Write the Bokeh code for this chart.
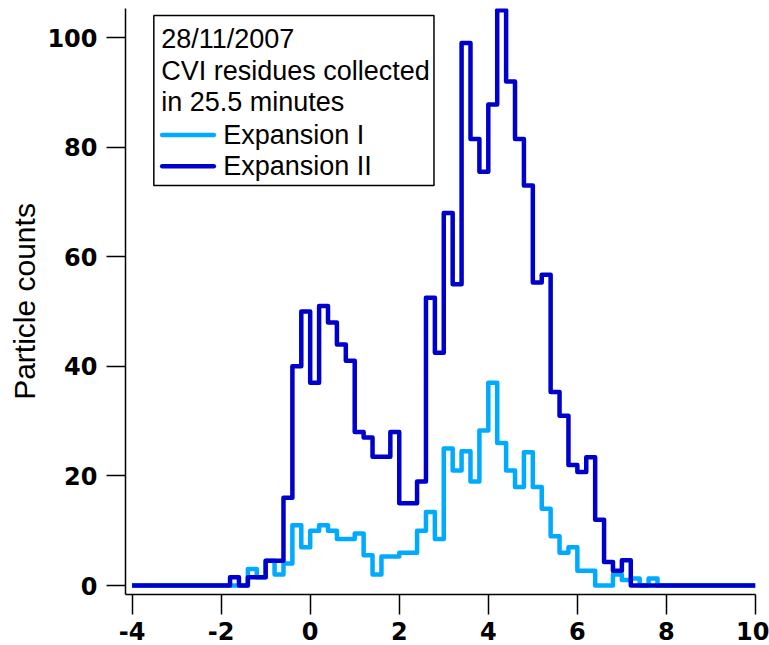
from bokeh.plotting import figure
from bokeh.models import Range1d, FixedTicker, BoxAnnotation, Label, CustomJSTickFormatter
from bokeh.embed import file_html
from bokeh.resources import INLINE

# ---- data -------------------------------------------------------------
bin_start = -4.0
bin_width = 0.2

# Particle counts per bin (bins from -4.0 to 10.0, width 0.2)
expansion_1 = [
    0, 0, 0, 0, 0, 0, 0, 0, 0, 0,          # -4.0 .. -2.2
    0, 0, 0, 3, 1.5, 4.5, 2, 4, 11, 7,      # -2.0 .. -0.2
    10, 11, 10, 8.5, 8.5, 9.5, 5.5, 2, 5.3, 5.3,   # 0.0 .. 1.8
    6, 6, 10, 13.4, 8.5, 25, 21, 24.5, 19, 28.3,   # 2.0 .. 3.8
    37, 26, 21, 18, 24.3, 18, 14, 9, 6, 7,         # 4.0 .. 5.8
    2.7, 2.7, 0, 0, 2, 1, 1.3, 0, 1.3, 0,          # 6.0 .. 7.8
    0, 0, 0, 0, 0, 0, 0, 0, 0, 0,                  # 8.0 .. 9.8
]
expansion_2 = [
    0, 0, 0, 0, 0, 0, 0, 0, 0, 0,
    0, 1.5, 0, 1.5, 1.5, 4.5, 4.5, 16, 40, 50,
    37, 51, 48, 44, 41, 28, 27, 23.5, 23.5, 28,
    15, 15, 19, 52.5, 42.5, 68, 55, 99, 81.5, 75.5,
    87.8, 105, 92, 81.5, 73, 55.3, 56.7, 35.3, 31, 22,
    20.7, 23.4, 12, 4.3, 2.7, 4.6, 0, 0, 0, 0,
    0, 0, 0, 0, 0, 0, 0, 0, 0, 0,
]
x_ticks = [-4, -2, 0, 2, 4, 6, 8, 10]
y_ticks = [0, 20, 40, 60, 80, 100]
legend_header = ["28/11/2007", "CVI residues collected", "in 25.5 minutes"]
series_names = ["Expansion I", "Expansion II"]
series_colors = ["#00AAFF", "#0000CC"]
y_title = "Particle counts"

# ---- figure -----------------------------------------------------------
p = figure(width=769, height=645, output_backend="svg", toolbar_location=None,
           x_range=Range1d(-4.148, 10.001), y_range=Range1d(-1.64, 105.3),
           min_border_left=125, min_border_right=14, min_border_top=8,
           min_border_bottom=51)
p.outline_line_color = None
p.xgrid.visible = False
p.ygrid.visible = False
p.background_fill_color = "white"
p.border_fill_color = "white"

n = len(expansion_1)
edges = [round(bin_start + i * bin_width, 2) for i in range(n + 1)]

for vals, col in zip([expansion_1, expansion_2], series_colors):
    p.step(edges, list(vals) + [vals[-1]], mode="after", line_width=4.5,
           line_color=col, line_join="round")

# axes
for ax, ticks in ((p.xaxis, x_ticks), (p.yaxis, y_ticks)):
    ax.ticker = FixedTicker(ticks=ticks)
    ax.formatter = CustomJSTickFormatter(code="return String(tick);")
    ax.minor_tick_line_color = None
    ax.major_tick_in = 0
    ax.axis_line_width = 1.5
    ax.major_tick_line_width = 1.5
    ax.axis_line_color = "black"
    ax.major_tick_line_color = "black"
    ax.major_label_text_font = "DejaVu Sans"
    ax.major_label_text_font_style = "bold"
    ax.major_label_text_font_size = "24px"
    ax.major_label_text_color = "black"

p.xaxis.major_tick_out = 20
p.xaxis.major_label_standoff = 7
p.yaxis.major_tick_out = 19
p.yaxis.major_label_standoff = 9
p.yaxis.axis_label = y_title
p.yaxis.axis_label_text_font = "Liberation Sans"
p.yaxis.axis_label_text_font_style = "normal"
p.yaxis.axis_label_text_font_size = "30px"
p.yaxis.axis_label_text_color = "black"
p.yaxis.axis_label_standoff = 3

# ---- legend box (positions in data units) -----------------------------
p.add_layout(BoxAnnotation(left=-3.512, right=2.780, bottom=72.99, top=104.01,
                           fill_color="white", fill_alpha=1.0, level="underlay",
                           line_color="black", line_alpha=1.0, line_width=1.5))
header_y = [99.76, 93.85, 88.19]
for txt, yy in zip(legend_header, header_y):
    p.add_layout(Label(x=-3.346, y=yy, text=txt, text_baseline="middle",
                       text_font="Liberation Sans", text_font_size="27px",
                       text_color="black"))
item_y = [82.2, 76.5]
for name, col, yy in zip(series_names, series_colors, item_y):
    p.line([-3.324, -2.164], [yy, yy], line_color=col, line_width=4.5,
           line_cap="round")
    p.add_layout(Label(x=-1.953, y=yy, text=name, text_baseline="middle",
                       text_font="Liberation Sans", text_font_size="27px",
                       text_color="black"))

open("out.html", "w").write(file_html(p, INLINE))
